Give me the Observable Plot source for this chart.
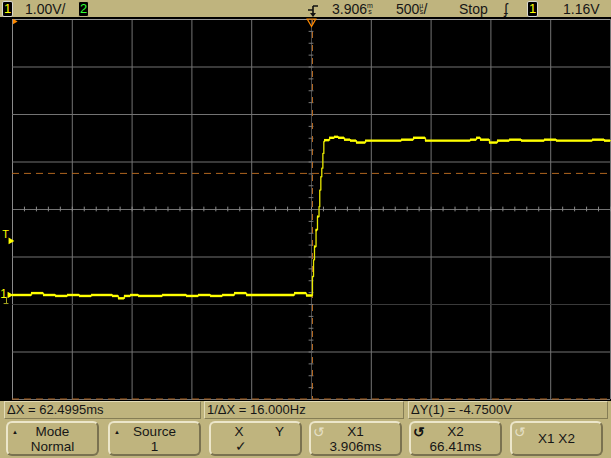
<!DOCTYPE html>
<html>
<head>
<meta charset="utf-8">
<script src="https://cdn.jsdelivr.net/npm/d3@7"></script>
<script src="https://cdn.jsdelivr.net/npm/@observablehq/plot@0.6"></script>
<style>
  html, body { margin: 0; padding: 0; background: #bfb47e; }
  #wrap { position: relative; width: 611px; height: 458px; overflow: hidden; background: #bfb47e;
          font-family: "Liberation Sans", Arial, sans-serif; color: #161616; }
  .t { position: absolute; font-size: 14px; line-height: 16px; white-space: nowrap; }
  .chbox { position: absolute; background: #000; border: 1px solid #d8d8d0; border-radius: 2px;
           font-size: 13px; line-height: 14px; text-align: center; }
  .stack { display: inline-block; font-size: 7px; line-height: 6px; vertical-align: top; margin-top: 2px; text-align: center; }
  .info { position: absolute; top: 401px; font-size: 13px; line-height: 16px; padding-left: 2px; white-space: nowrap;
          border-top: 1px solid #e4dcb8; border-left: 1px solid #e4dcb8; border-right: 1px solid #857d55; border-bottom: 1px solid #857d55; box-sizing: border-box; height: 18px; }
  .btn { position: absolute; top: 421px; height: 35px; box-sizing: border-box; border-radius: 6px;
         border-top: 2px solid #ece6ca; border-left: 2px solid #ece6ca; border-right: 2px solid #7a7250; border-bottom: 2px solid #7a7250; }
  .bl { position: absolute; left: 0; right: 0; text-align: center; font-size: 13.5px; line-height: 15px; }
  .tri { position: absolute; font-size: 6px; line-height: 6px; }
  .rot { position: absolute; font-size: 14px; line-height: 14px; }
</style>
</head>
<body>
<div id="wrap">
  <div id="topbar" style="position:absolute;left:0;top:0;width:611px;height:17px;"></div>
  <div id="plot" style="position:absolute;left:0;top:17px;"></div>
  <div id="bottombar"></div>
</div>
<script>
// ---- Data (time in ms, voltage in V) ----
const timeDomain = [1.406, 6.406];      // 500 us/div, 10 divisions, centre 3.906 ms
const voltDomain = [-2.2, 5.8];         // 1.00 V/div, 8 divisions
const traceTime = [
  1.406, 1.565, 1.665, 1.766, 1.866, 1.966, 2.067, 2.242, 2.292, 2.342, 2.393, 2.460,
  2.660, 2.861, 2.961, 3.062, 3.162, 3.262, 3.363, 3.764, 3.864,
  3.914, 3.923, 3.931, 3.944, 3.956, 3.969, 3.975, 3.984, 3.992, 4.001, 4.009,
  4.015, 4.057, 4.098, 4.132, 4.182, 4.232, 4.282, 4.358, 4.659, 4.759, 4.859,
  5.235, 5.286, 5.319, 5.394, 5.461, 5.562, 5.662, 5.854, 5.954, 6.255, 6.356, 6.406
];
const traceVolts = [
  0.00, 0.04, 0.00, -0.02, 0.00, -0.02, 0.00, -0.02, -0.07, -0.02, 0.00, -0.02,
  0.00, -0.02, 0.00, -0.02, 0.00, 0.04, 0.00, 0.04, -0.01,
  0.39, 0.74, 1.02, 1.37, 1.65, 1.86, 2.21, 2.49, 2.67, 2.98, 3.23,
  3.26, 3.31, 3.33, 3.31, 3.27, 3.25, 3.21, 3.25, 3.27, 3.31, 3.25,
  3.27, 3.31, 3.27, 3.21, 3.25, 3.27, 3.25, 3.27, 3.25, 3.27, 3.25, 3.25
];
const cursorX1 = 3.906;                 // X1 cursor (ms)
const cursorY1 = 2.56;                  // Y1 cursor (V)
const cursorY2 = cursorY1 - 4.75;       // ΔY(1) = -4.7500V
const triggerLevel = 1.16;              // V
const groundLevel = 0;                  // channel 1 reference

const topLabels = { scale: "1.00V/", delay: "3.906", delayUnit: ["m", "s"], timebase: "500", tbUnit: ["µ", "s"], run: "Stop", slope: "ʄ", trigVal: "1.16V" };
const infoLabels = ["ΔX = 62.4995ms", "1/ΔX = 16.000Hz", "ΔY(1) = -4.7500V"];
const softkeys = [
  { l1: "Mode", l2: "Normal", tri: true },
  { l1: "Source", l2: "1", tri: true },
  { xy: true },
  { l1: "X1", l2: "3.906ms", rot: "dim" },
  { l1: "X2", l2: "66.41ms", rot: "dark" },
  { single: "X1 X2", rot: "dim" }
];

const trace = traceTime.map((t, i) => ({ t, v: traceVolts[i] }));
// horizontal runs of the stepped trace (drawn thicker); the fast edge stays thin
const runs = trace.slice(0, -1).map((d, i) => ({ t1: d.t, t2: trace[i + 1].t, v: d.v }))
  .filter(r => r.t2 - r.t1 > 0.012);
const divX = (timeDomain[1] - timeDomain[0]) / 10;
const centreT = (timeDomain[0] + timeDomain[1]) / 2;
const centreV = (voltDomain[0] + voltDomain[1]) / 2;
const xGrid = d3.range(11).map(i => timeDomain[0] + i * divX).filter((d, i) => i !== 5);
const yGrid = d3.range(9).map(i => voltDomain[0] + i);
const xMinor = d3.range(51).map(i => timeDomain[0] + i * divX / 5);
const yMinor = d3.range(33).map(i => voltDomain[0] + i * 0.25);

const gridColor = "#737373";
const cursorColor = "#b0651f";
const traceColor = "#ffff00";

const chart = Plot.plot({
  width: 611, height: 384,
  marginLeft: 12, marginRight: 1, marginTop: 2, marginBottom: 2,
  x: { domain: timeDomain, axis: null },
  y: { domain: voltDomain, axis: null },
  style: { background: "#000", overflow: "visible" },
  marks: [
    Plot.ruleX(xGrid, { stroke: (d, i) => i === 0 ? "#8a8a8a" : gridColor }),
    Plot.ruleY(yGrid, { stroke: d => Math.abs(d - (-0.2)) < 1e-6 ? "#3a3a3a" : (Math.abs(d - voltDomain[1]) < 1e-6 ? "#9a9a9a" : gridColor) }),
    Plot.ruleX([centreT], { stroke: "#4a4a4a" }),
    Plot.ruleX(xMinor, { y1: centreV - 0.05, y2: centreV + 0.05, stroke: "#8a8a8a" }),
    Plot.ruleY(yMinor, { x1: centreT - 0.02, x2: centreT + 0.02, stroke: "#7a7a7a" }),
    Plot.ruleX([cursorX1], { stroke: cursorColor, strokeDasharray: "6,7", dx: 1 }),
    Plot.ruleY([cursorY1, cursorY2], { stroke: cursorColor, strokeDasharray: "7,5" }),
    Plot.line(trace, { x: "t", y: "v", curve: "step-after", stroke: "#e8e800", strokeWidth: 1.3 }),
    Plot.ruleY(runs, { y: "v", x1: "t1", x2: "t2", stroke: traceColor, strokeWidth: 2.4 }),
    // channel 1 ground marker
    Plot.text([groundLevel], { x: () => timeDomain[0], y: d => d, text: () => "1", dx: -9, dy: -1, fill: traceColor, fontSize: 12, fontFamily: "Liberation Sans, Arial" }),
    Plot.dot([groundLevel], { x: () => timeDomain[0], y: d => d, symbol: "triangle2", rotate: 90, r: 3.2, dx: -3, fill: traceColor }),
    Plot.ruleX([groundLevel], { x: () => timeDomain[0], y1: d => d - 0.05, y2: d => d - 0.18, dx: -6, stroke: "#a8a820" }),
    Plot.ruleY([groundLevel - 0.18], { y: d => d, x1: () => timeDomain[0] - 0.07, x2: () => timeDomain[0] - 0.03, stroke: "#a8a820" }),
    // trigger level marker
    Plot.text([triggerLevel], { x: () => timeDomain[0], y: d => d, text: () => "T", dx: -7, dy: -5, fill: traceColor, fontSize: 11, fontFamily: "Liberation Sans, Arial" }),
    Plot.dot([triggerLevel], { x: () => timeDomain[0], y: d => d, symbol: "triangle2", rotate: 90, r: 3.2, dx: -2, dy: 1, fill: traceColor }),
    // trigger position marker at top and corner marker
    Plot.dot([cursorX1], { x: d => d, y: () => voltDomain[1], symbol: "triangle", rotate: 180, r: 3.2, dy: 2, stroke: "#ff8a00", fill: "none", strokeWidth: 1.2 }),
    Plot.dot([timeDomain[0]], { x: d => d, y: () => voltDomain[1], symbol: "triangle2", rotate: -30, r: 2.6, dx: 2, dy: 2, fill: "#ff8a00" })
  ]
});
document.getElementById("plot").appendChild(chart);

// ---- Top status bar ----
const topBar = document.getElementById("topbar");
topBar.innerHTML = `
  <div class="chbox" style="left:2px;top:1px;width:9px;height:14px;color:#ffff00;">1</div>
  <div class="t" style="left:25px;top:1px;">${topLabels.scale}</div>
  <div class="chbox" style="left:78px;top:1px;width:9px;height:14px;color:#33ff33;border-color:#bfb47e;">2</div>
  <svg style="position:absolute;left:304px;top:3px;" width="16" height="15">
    <path d="M9 3 H14 M9 3 V11 M4 7 H9" stroke="#111" stroke-width="1.6" fill="none"/>
    <path d="M6 10 L9 14 L12 10 Z" fill="#111"/>
  </svg>
  <div class="t" style="left:332px;top:1px;">${topLabels.delay}<span class="stack">${topLabels.delayUnit[0]}<br>${topLabels.delayUnit[1]}</span></div>
  <div class="t" style="left:396px;top:1px;">${topLabels.timebase}<span class="stack">${topLabels.tbUnit[0]}<br>${topLabels.tbUnit[1]}</span>/</div>
  <div class="t" style="left:459px;top:1px;">${topLabels.run}</div>
  <div class="t" style="left:504px;top:1px;">${topLabels.slope}</div>
  <div class="chbox" style="left:527px;top:1px;width:9px;height:14px;color:#ffff00;">1</div>
  <div class="t" style="left:563px;top:1px;">${topLabels.trigVal}</div>
`;

// ---- Bottom cursor readout and softkeys ----
const bottomBar = document.getElementById("bottombar");
const infoBoxes = [[4, 197], [204, 200], [408, 200]];
let html = infoLabels.map((s, i) =>
  `<div class="info" style="left:${infoBoxes[i][0]}px;width:${infoBoxes[i][1]}px;">${s}</div>`).join("");
const btnX = [6, 108, 209, 309, 409, 510];
softkeys.forEach((k, i) => {
  let inner = "";
  if (k.tri) inner += `<div class="tri" style="left:4px;top:6px;">▲</div>`;
  if (k.rot) inner += `<div class="rot" style="left:2px;top:2px;color:${k.rot === "dark" ? "#111" : "#e6e0c6"};${k.rot === "dark" ? "font-weight:bold;" : ""}">↺</div>`;
  if (k.l1) inner += `<div class="bl" style="top:1px;">${k.l1}</div><div class="bl" style="top:16px;">${k.l2}</div>`;
  if (k.single) inner += `<div class="bl" style="top:8px;">${k.single}</div>`;
  if (k.xy) inner += `<div class="bl" style="top:1px;left:-33px;">X</div><div class="bl" style="top:1px;left:64px;right:0;text-align:left;">Y</div><div class="bl" style="top:16px;left:-30px;">✓</div>`;
  html += `<div class="btn" style="left:${btnX[i]}px;width:93px;">${inner}</div>`;
});
bottomBar.innerHTML = html;
</script>
</body>
</html>
